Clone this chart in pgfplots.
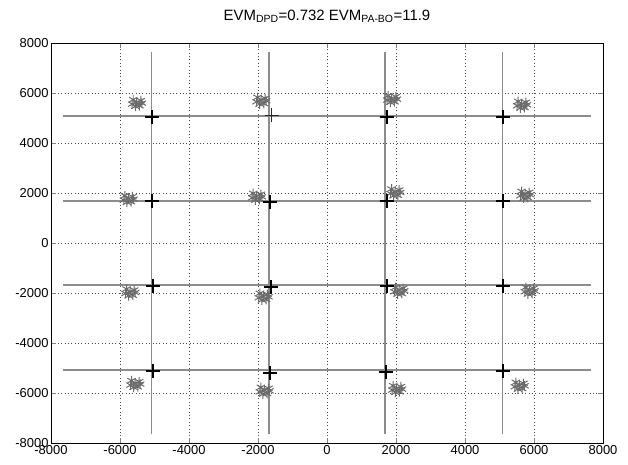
\documentclass[border=0pt]{standalone}
\usepackage{pgfplots}
\pgfplotsset{compat=1.18}
\usepackage{fontspec}
\setmainfont{Liberation Sans}
\definecolor{linegray}{gray}{0.55}
\definecolor{stargray}{gray}{0.42}
\begin{document}
\begin{tikzpicture}
\useasboundingbox (-51bp,-22bp) rectangle (577bp,443bp);
\begin{axis}[
  scale only axis, width=552bp, height=400bp,
  xmin=-8000, xmax=8000, ymin=-8000, ymax=8000,
  xtick distance=2000, ytick distance=2000,
  scaled ticks=false,
  /pgf/number format/1000 sep={},
  /pgf/number format/assume math mode=true,
  tick label style={font=\fontsize{13}{14}\selectfont},
  xticklabel style={yshift=1bp},
  yticklabel style={xshift=1bp},
  tick align=inside, major tick length=5bp,
  grid=major,
  major grid style={black!70, line width=0.7pt, dash pattern=on 0.8pt off 2.6pt},
  axis line style={black, line width=0.8pt},
  title={EVM\textsubscript{DPD}=0.732 EVM\textsubscript{PA-BO}=11.9},
  title style={font=\fontsize{15}{16}\selectfont, at={(0.5,1)}, anchor=base, yshift=17bp},
  clip=false,
]
% reference grid lines
\addplot[linegray, line width=1.3pt] coordinates {(-5080,-7650) (-5080,7650)};
\addplot[linegray, line width=1.3pt] coordinates {(-1680,-7650) (-1680,7650)};
\addplot[linegray, line width=1.3pt] coordinates {(1680,-7650) (1680,7650)};
\addplot[linegray, line width=1.3pt] coordinates {(5080,-7650) (5080,7650)};
\addplot[linegray, line width=1.3pt] coordinates {(-7650,5080) (7650,5080)};
\addplot[linegray, line width=1.3pt] coordinates {(-7650,1680) (7650,1680)};
\addplot[linegray, line width=1.3pt] coordinates {(-7650,-1680) (7650,-1680)};
\addplot[linegray, line width=1.3pt] coordinates {(-7650,-5080) (7650,-5080)};
% PA-BO clusters
\addplot[only marks, mark=asterisk, mark size=4.8bp, color=stargray, line width=1pt] coordinates {
(-5516,5616) (-5396,5696) (-5616,5736) (-5436,5486) (-5646,5556) (-5366,5596) (-5556,5466)
(-1913,5708) (-1793,5788) (-2013,5828) (-1833,5578) (-2043,5648) (-1763,5688) (-1953,5558)
(1875,5776) (1995,5856) (1775,5896) (1955,5646) (1745,5716) (2025,5756) (1835,5626)
(5643,5548) (5763,5628) (5543,5668) (5723,5418) (5513,5488) (5793,5528) (5603,5398)
(-5759,1776) (-5639,1856) (-5859,1896) (-5679,1646) (-5889,1716) (-5609,1756) (-5799,1626)
(-2038,1868) (-1918,1948) (-2138,1988) (-1958,1738) (-2168,1808) (-1888,1848) (-2078,1718)
(1971,2040) (2091,2120) (1871,2160) (2051,1910) (1841,1980) (2121,2020) (1931,1890)
(5739,1948) (5859,2028) (5639,2068) (5819,1818) (5609,1888) (5889,1928) (5699,1798)
(-5710,-1960) (-5590,-1880) (-5810,-1840) (-5630,-2090) (-5840,-2020) (-5560,-1980) (-5750,-2110)
(-1846,-2132) (-1726,-2052) (-1946,-2012) (-1766,-2262) (-1976,-2192) (-1696,-2152) (-1886,-2282)
(2087,-1892) (2207,-1812) (1987,-1772) (2167,-2022) (1957,-1952) (2237,-1912) (2047,-2042)
(5864,-1892) (5984,-1812) (5764,-1772) (5944,-2022) (5734,-1952) (6014,-1912) (5824,-2042)
(-5565,-5624) (-5445,-5544) (-5665,-5504) (-5485,-5754) (-5695,-5684) (-5415,-5644) (-5605,-5774)
(-1817,-5892) (-1697,-5812) (-1917,-5772) (-1737,-6022) (-1947,-5952) (-1667,-5912) (-1857,-6042)
(2020,-5824) (2140,-5744) (1920,-5704) (2100,-5954) (1890,-5884) (2170,-5844) (1980,-5974)
(5574,-5692) (5694,-5612) (5474,-5572) (5654,-5822) (5444,-5752) (5724,-5712) (5534,-5842)
};
% DPD points
\addplot[only marks, mark=+, mark size=7bp, color=black, line width=2pt] coordinates {
(-5081,5040) (1730,5040) (5110,5040)
(-5081,1668) (-1652,1640) (1730,1668) (5110,1668)
(-5052,-1732) (-1632,-1760) (1730,-1732) (5110,-1732)
(-5052,-5132) (-1652,-5200) (1701,-5160) (5110,-5132)
};
\addplot[only marks, mark=+, mark size=7bp, color=black!85, line width=1.3pt] coordinates {
(-1600,5108)
};
\end{axis}
\end{tikzpicture}
\end{document}
